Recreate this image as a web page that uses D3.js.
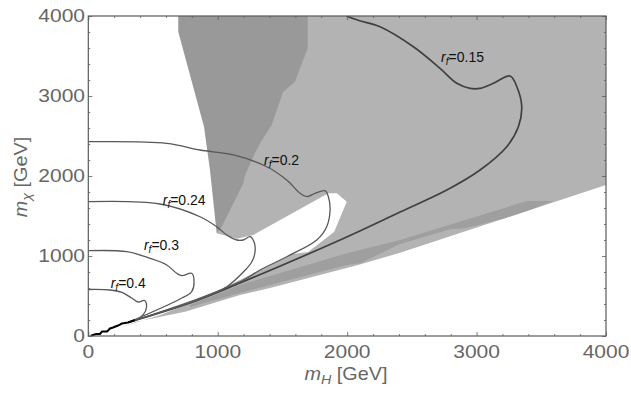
<!DOCTYPE html>
<html>
<head>
<meta charset="utf-8">
<script src="https://cdn.jsdelivr.net/npm/d3@7"></script>
<style>
  body { margin: 0; background: #fff; }
  svg { display: block; font-family: "Liberation Sans", Arial, sans-serif; }
</style>
</head>
<body>
<svg id="chart" width="631" height="394"></svg>
<script>
// regions, [mH, mChi] in GeV
const lightRegion = [[1200,4000],[4000,4000],[4000,1887],[2409,1041],[2084,888],[1404,600],[1172,513],[747,304],[361,175],[246,100],
  [330,150],[556,263],[863,463],[1172,700],[1582,1025],[1698,1050],[1899,1300],[1997,1679],[1920,1784],[1855,1784],[1275,1263],[1147,1215],[992,1284]];
const darkRegion = [[695,4000],[1695,4000],[1695,3596],[1597,3179],[1505,3050],[1417,2638],[1327,2409],[1275,2241],[1211,2013],[1198,1909],
  [1108,1616],[1031,1366],[992,1284],[940,2075],[894,2616],[695,3804]];
const darkBand = [[786,388],[1172,638],[1997,1034],[2409,1200],[3388,1688],[3591,1688],[3400,1568],[3207,1465],[2911,1346],[2795,1334],
  [2409,1150],[2100,909],[1997,888],[1172,538],[786,363]];

// contours of r_f
const rf015 = [[1992,4000],[2096,3941],[2254,3866],[2512,3616],[2718,3346],[2847,3159],[2950,3096],[3027,3096],[3130,3159],[3259,3250],
  [3311,3116],[3349,2866],[3323,2616],[3233,2366],[3027,2075],[2770,1825],[2409,1550],[1945,1200],[1172,663],[786,413],[307,169]];
const rf02 = [[0,2429],[606,2409],[863,2325],[1121,2263],[1379,2116],[1533,1950],[1636,1784],[1688,1741],[1752,1784],[1829,1816],
  [1855,1741],[1868,1575],[1842,1366],[1765,1200],[1533,991],[1327,825],[1198,700],[863,475],[307,169]];
const rf024 = [[0,1679],[554,1650],[863,1491],[992,1366],[1070,1263],[1147,1200],[1198,1200],[1250,1241],[1281,1175],[1288,1050],
  [1263,925],[1198,800],[1070,616],[915,491],[307,169]];
const rf03 = [[0,1066],[297,1054],[477,971],[606,888],[683,784],[722,754],[799,784],[817,688],[799,554],[709,463],[307,169]];
const rf04 = [[0,581],[168,575],[260,544],[335,475],[386,425],[434,444],[450,363],[423,263],[361,194],[307,169]];
const edgeLine = [[20,0],[26,6],[60,25],[90,25],[106,56],[145,56],[168,94],[191,106],[230,131],[260,156],[307,169],[361,200]];

const contours = [rf015, rf02, rf024, rf03, rf04];
const labelText = ["0.15", "0.2", "0.24", "0.3", "0.4"];
const labelAt = [[2726,3425],[1358,2138],[575,1638],[430,1081],[173,594]];

const majorTicks = [0, 1000, 2000, 3000, 4000];
const minorTicks = d3.range(0, 4001, 200).filter(v => v % 1000 !== 0);

const svg = d3.select("#chart");
const x = d3.scaleLinear().domain([0, 4000]).range([88.3, 606]);
const y = d3.scaleLinear().domain([0, 4000]).range([336, 16]);

const area = d3.line().x(d => x(d[0])).y(d => y(d[1]));
const smooth = d3.line().x(d => x(d[0])).y(d => y(d[1])).curve(d3.curveCatmullRom.alpha(0.5));

svg.append("defs").append("clipPath").attr("id", "clip")
  .append("rect").attr("x", x(0)).attr("y", y(4000)).attr("width", x(4000) - x(0)).attr("height", y(0) - y(4000));

const plot = svg.append("g").attr("clip-path", "url(#clip)");

plot.append("path").attr("d", area(lightRegion) + "Z").attr("fill", "#b3b3b3");
plot.append("path").attr("d", area(darkBand) + "Z").attr("fill", "#9f9f9f");
plot.append("path").attr("d", area(darkRegion) + "Z").attr("fill", "#999999");

contours.forEach((c, i) => {
  plot.append("path").attr("d", smooth(c)).attr("fill", "none")
    .attr("stroke", i === 0 ? "#404040" : "#585858")
    .attr("stroke-width", i === 0 ? 1.7 : 1.3);
});
plot.append("path").attr("d", area(edgeLine)).attr("fill", "none").attr("stroke", "#000").attr("stroke-width", 2);

// labels
labelText.forEach((t, i) => {
  const txt = svg.append("text").attr("x", x(labelAt[i][0])).attr("y", y(labelAt[i][1]))
    .attr("font-size", 14).attr("fill", "#111");
  txt.append("tspan").attr("font-style", "italic").text("r");
  txt.append("tspan").attr("font-style", "italic").attr("font-size", 10).attr("dy", 3).text("f");
  txt.append("tspan").attr("dy", -3).text("=" + t);
});

// frame and ticks
const frameColor = "#5a5a5a";
function addAxis(axis, tr, size, values) {
  const g = svg.append("g").attr("transform", tr)
    .call(axis.tickValues(values).tickSize(size).tickFormat(""));
  g.select(".domain").remove();
  g.selectAll("line").attr("stroke", frameColor).attr("stroke-width", 0.8);
  return g;
}
addAxis(d3.axisBottom(x), `translate(0,${y(0)})`, -4, majorTicks);
addAxis(d3.axisBottom(x), `translate(0,${y(0)})`, -2, minorTicks);
addAxis(d3.axisTop(x), `translate(0,${y(4000)})`, -4, majorTicks);
addAxis(d3.axisTop(x), `translate(0,${y(4000)})`, -2, minorTicks);
addAxis(d3.axisLeft(y), `translate(${x(0)},0)`, -4, majorTicks);
addAxis(d3.axisLeft(y), `translate(${x(0)},0)`, -2, minorTicks);
addAxis(d3.axisRight(y), `translate(${x(4000)},0)`, -4, majorTicks);
addAxis(d3.axisRight(y), `translate(${x(4000)},0)`, -2, minorTicks);

svg.append("rect").attr("x", x(0)).attr("y", y(4000)).attr("width", x(4000) - x(0)).attr("height", y(0) - y(4000))
  .attr("fill", "none").attr("stroke", frameColor).attr("stroke-width", 1.2);

// tick labels
const labelColor = "#666666";
svg.append("g").selectAll("text").data(majorTicks).join("text")
  .attr("transform", d => `translate(${x(d)},${y(0) + 22}) scale(1.2,1)`)
  .attr("text-anchor", "middle").attr("font-size", 17.5).attr("fill", labelColor).text(d => d);
svg.append("g").selectAll("text").data(majorTicks).join("text")
  .attr("transform", d => `translate(${x(0) - 3.3},${y(d) + 6.3}) scale(1.2,1)`)
  .attr("text-anchor", "end").attr("font-size", 17.5).attr("fill", labelColor).text(d => d);

// axis titles
const xt = svg.append("text").attr("transform", "translate(346,380) scale(1.1,1)").attr("text-anchor", "middle")
  .attr("font-size", 18).attr("fill", labelColor);
xt.append("tspan").attr("font-style", "italic").text("m");
xt.append("tspan").attr("font-style", "italic").attr("font-size", 13).attr("dy", 4).text("H");
xt.append("tspan").attr("dy", -4).text(" [GeV]");

const yt = svg.append("text").attr("transform", "translate(27,177) rotate(-90) scale(1.1,1)").attr("text-anchor", "middle")
  .attr("font-size", 18).attr("fill", labelColor);
yt.append("tspan").attr("font-style", "italic").text("m");
yt.append("tspan").attr("font-style", "italic").attr("font-size", 13).attr("dy", 4).text("χ");
yt.append("tspan").attr("dy", -4).text(" [GeV]");
</script>
</body>
</html>
